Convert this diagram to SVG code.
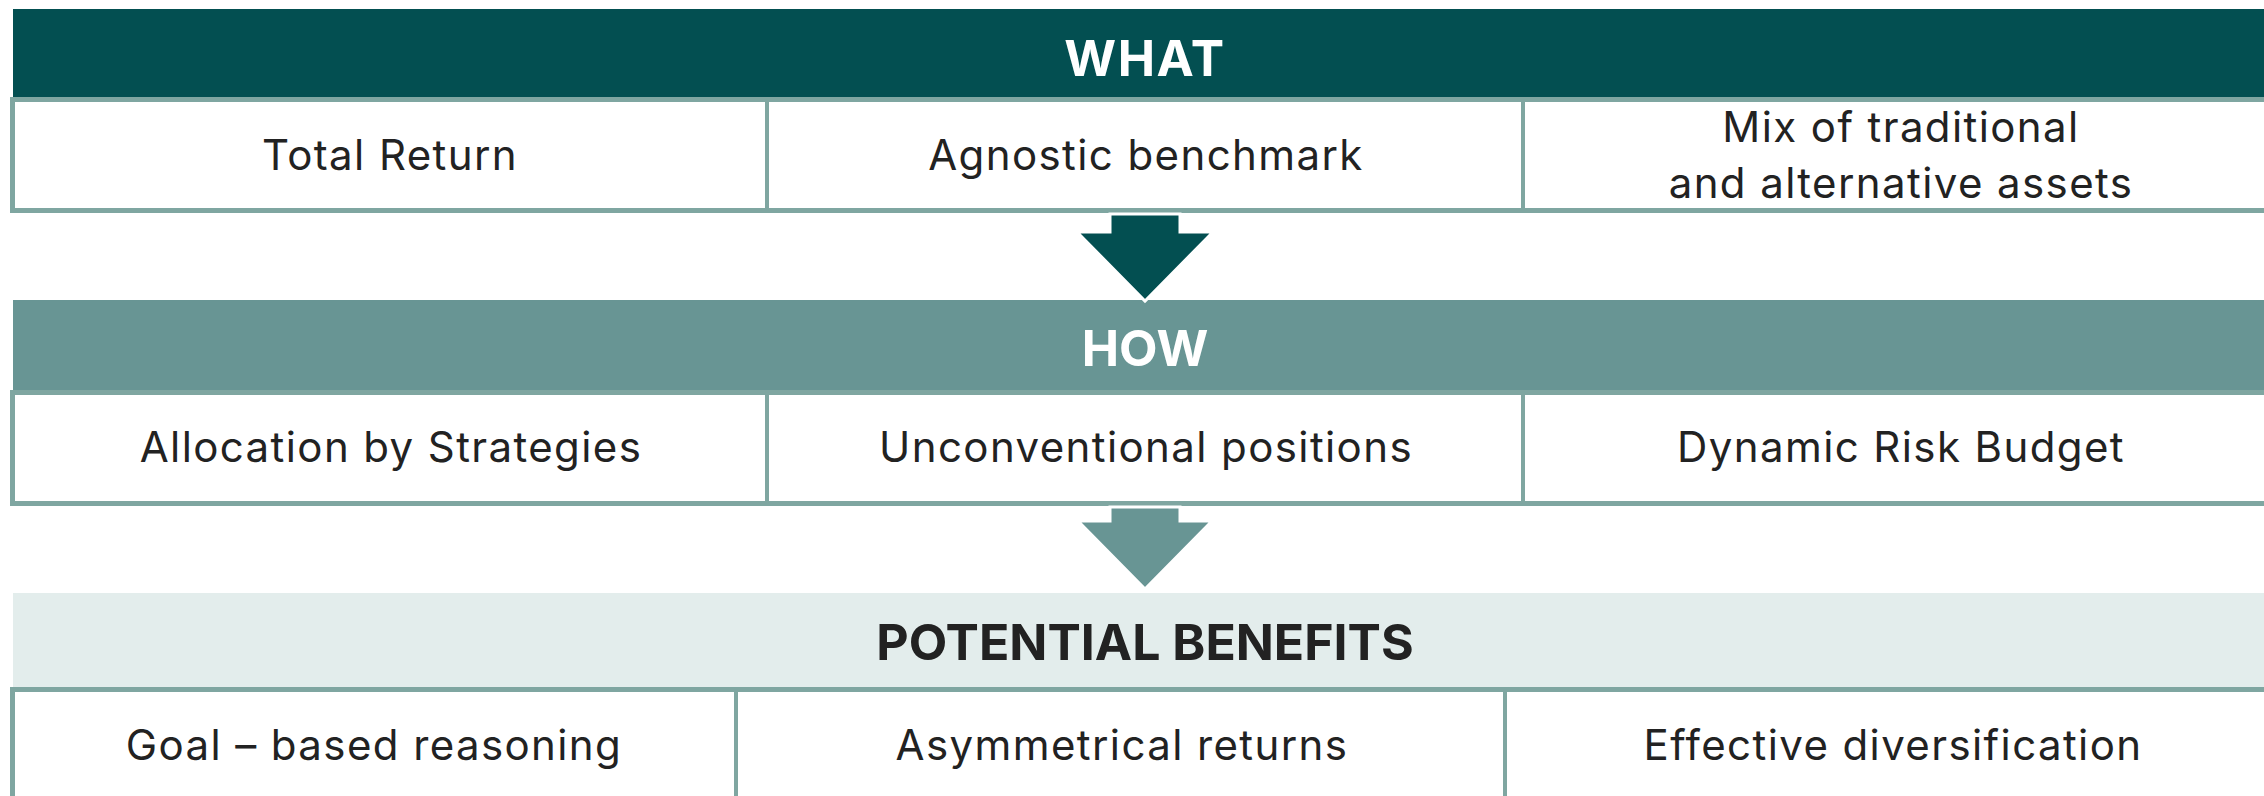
<svg xmlns="http://www.w3.org/2000/svg" width="2264" height="796" viewBox="0 0 2264 796">
<style>
.cell{fill:#ffffff;stroke:#7FA6A1;stroke-width:5}
.div{stroke:#7FA6A1;stroke-width:4}
.body{font-family:Inter,"Open Sans",sans-serif;font-size:42px;letter-spacing:1.4px;fill:#222222;text-anchor:middle}
.title{font-family:Inter,"Open Sans",sans-serif;font-size:50px;font-weight:700;text-anchor:middle}
</style>
<rect width="2264" height="796" fill="#ffffff"/>
<g id="what">
<rect x="13" y="9" width="2260" height="89" fill="#034F51"/>
<text class="title" x="1145" y="76" fill="#ffffff" style="letter-spacing:1.5px">WHAT</text>
</g>
<g id="row1">
<rect class="cell" x="12.5" y="99.5" width="2300" height="111"/>
<line class="div" x1="767" y1="99.5" x2="767" y2="210.5"/>
<line class="div" x1="1523" y1="99.5" x2="1523" y2="210.5"/>
<text class="body" x="390" y="170">Total Return</text>
<text class="body" x="1146" y="170">Agnostic benchmark</text>
<text class="body" x="1901" y="142">Mix of traditional</text>
<text class="body" x="1901" y="198">and alternative assets</text>
</g>
<g id="how">
<rect x="13" y="300" width="2260" height="92" fill="#689594"/>
<text class="title" x="1145" y="366" fill="#ffffff">HOW</text>
</g>
<g id="row2">
<rect class="cell" x="12.5" y="392.5" width="2300" height="111"/>
<line class="div" x1="767" y1="392.5" x2="767" y2="503.5"/>
<line class="div" x1="1523" y1="392.5" x2="1523" y2="503.5"/>
<text class="body" x="391" y="462">Allocation by Strategies</text>
<text class="body" x="1146" y="462">Unconventional positions</text>
<text class="body" x="1901" y="462">Dynamic Risk Budget</text>
</g>
<g id="benefits">
<rect x="13" y="593" width="2260" height="94" fill="#E3EDEC"/>
<text class="title" x="1145" y="660" fill="#222222">POTENTIAL BENEFITS</text>
</g>
<g id="row3">
<rect class="cell" x="12.5" y="689.5" width="2300" height="200"/>
<line class="div" x1="736" y1="689.5" x2="736" y2="796"/>
<line class="div" x1="1505" y1="689.5" x2="1505" y2="796"/>
<text class="body" x="374" y="760">Goal – based reasoning</text>
<text class="body" x="1122" y="760">Asymmetrical returns</text>
<text class="body" x="1893" y="760">Effective diversification</text>
</g>
<g id="connectors">
<polygon points="1110,214 1180,214 1180,232 1213,232 1145,301 1077,232 1110,232" fill="#034F51" stroke="#ffffff" stroke-width="3" stroke-linejoin="miter"/>
<polygon points="1110,507 1180,507 1180,521 1212,521 1145,589 1078,521 1110,521" fill="#689594" stroke="#ffffff" stroke-width="3"/>
</g>
</svg>
